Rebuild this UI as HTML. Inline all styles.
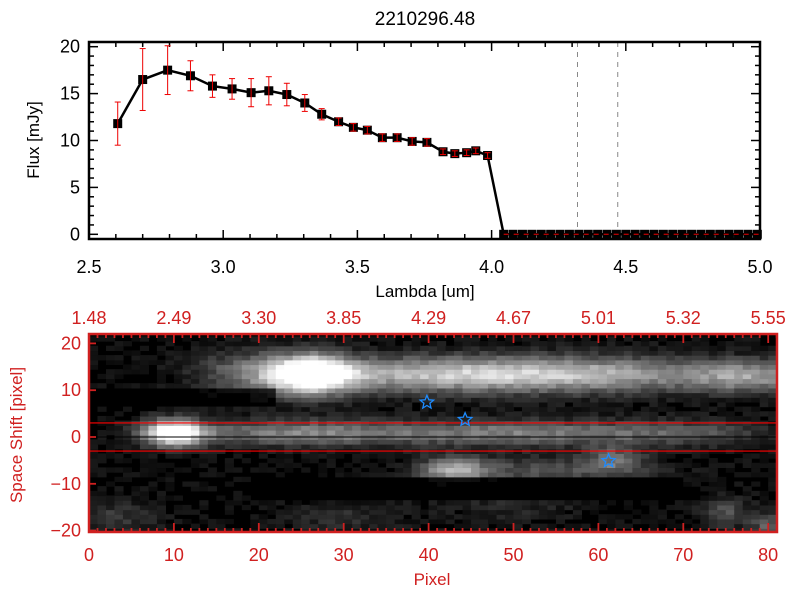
<!DOCTYPE html>
<html><head><meta charset="utf-8"><style>
html,body{margin:0;padding:0;background:#fff;width:800px;height:600px;overflow:hidden}
svg{display:block;font-family:"Liberation Sans",sans-serif}
</style></head><body>
<svg id="c" width="800" height="600" viewBox="0 0 800 600"></svg>
<script>
const lambdas=[2.607,2.70,2.793,2.878,2.96,3.033,3.104,3.17,3.237,3.304,3.367,3.43,3.485,3.537,3.593,3.648,3.704,3.759,3.819,3.863,3.907,3.941,3.985,4.045,4.08,4.115,4.15,4.185,4.22,4.255,4.29,4.325,4.36,4.395,4.43,4.465,4.5,4.535,4.57,4.605,4.64,4.675,4.71,4.745,4.78,4.815,4.85,4.885,4.92,4.955,4.99];
const flux=[11.8,16.5,17.5,16.9,15.8,15.5,15.1,15.3,14.9,14.0,12.8,12.0,11.4,11.1,10.3,10.3,9.9,9.8,8.8,8.6,8.7,8.9,8.4,0,0,0,0,0,0,0,0,0,0,0,0,0,0,0,0,0,0,0,0,0,0,0,0,0,0,0,0];
const fluxErr=[2.3,3.3,2.6,1.6,1.2,1.1,1.5,1.5,1.2,0.9,0.6,0.4,0.4,0.4,0.4,0.4,0.4,0.4,0.3,0.3,0.3,0.3,0.3,0,0,0,0,0,0,0,0,0,0,0,0,0,0,0,0,0,0,0,0,0,0,0,0,0,0,0,0];
const xTicks=[2.5,3.0,3.5,4.0,4.5,5.0];
const xTickLabels=["2.5","3.0","3.5","4.0","4.5","5.0"];
const yTicks=[0,5,10,15,20];
const dashedLambdas=[4.32,4.47];
const pixTicks=[0,10,20,30,40,50,60,70,80];
const lambdaTopLabels=["1.48","2.49","3.30","3.85","4.29","4.67","5.01","5.32","5.55"];
const shiftTicks=[20,10,0,-10,-20];
const starsPix=[39.8,44.3,61.2];
const starsShift=[7.4,3.7,-5.1];
// heatmap blobs: [pixel center, shift center, sigma x, sigma y, amplitude]
const blobX=[26,40,60,78,10,25,50,70,43,55,62,75,80,18,3,30,50];
const blobY=[13.5,13.5,13.5,13,1,1,1,1,-7,-7,-4.5,-16,-19,14,-17,-17,-15];
const blobSX=[3.5,12,12,5,2.5,10,10,8,3,8,2.5,2,1.5,4,4,5,6];
const blobSY=[3,2.8,2.8,2.5,2,2,2,2,2,2,2,2.2,2,3.5,2.5,2.5,2.5];
const blobA=[1.1,0.6,0.55,0.45,1.1,0.5,0.45,0.3,0.6,0.3,0.35,0.3,0.35,0.3,0.2,0.15,0.12];

const S=document.getElementById('c');const NS='http://www.w3.org/2000/svg';
function mk(t,a,p){const e=document.createElementNS(NS,t);for(const k in a)e.setAttribute(k,a[k]);(p||S).appendChild(e);return e;}
const X0=89,X1=760,Y0=239,Y1=42;
const lx=v=>X0+(v-2.5)/2.5*(X1-X0);
const fy=v=>Y0-(v+0.5)/21*(Y0-Y1);
let t=mk('text',{x:425,y:25,'text-anchor':'middle','font-size':19});t.textContent='2210296.48';


const gTop=mk('g',{});


dashedLambdas.forEach(v=>{const l=mk('line',{x1:lx(v),x2:lx(v),y1:Y1,y2:Y0,stroke:'#888','stroke-dasharray':'5,5','stroke-width':1},gTop);

});
for(let v=2.5;v<=5.001;v+=0.1){const maj=Math.abs(v*2-Math.round(v*2))<0.01;const L=maj?9:5;
mk('line',{x1:lx(v),x2:lx(v),y1:Y0,y2:Y0-L,stroke:'#000','stroke-width':1.5},gTop);
mk('line',{x1:lx(v),x2:lx(v),y1:Y1,y2:Y1+L,stroke:'#000','stroke-width':1.5},gTop);}
for(let v=0;v<=20;v++){const L=v%5==0?9:5;
mk('line',{x1:X0,x2:X0+L,y1:fy(v),y2:fy(v),stroke:'#000','stroke-width':1.5},gTop);
mk('line',{x1:X1,x2:X1-L,y1:fy(v),y2:fy(v),stroke:'#000','stroke-width':1.5},gTop);}
xTicks.forEach((v,i)=>{const e=mk('text',{x:lx(v),y:273,'text-anchor':'middle','font-size':18},gTop);e.textContent=xTickLabels[i];

});
yTicks.forEach(v=>{const e=mk('text',{x:80,y:fy(v)+6,'text-anchor':'end','font-size':18},gTop);e.textContent=v;

});
t=mk('text',{x:425,y:297,'text-anchor':'middle','font-size':17},gTop);t.textContent='Lambda [um]';


t=mk('text',{x:0,y:0,'text-anchor':'middle','font-size':17,transform:'translate(39,140) rotate(-90)'},gTop);t.textContent='Flux [mJy]';


mk('polyline',{points:lambdas.map((v,i)=>lx(v)+','+fy(flux[i])).join(' '),fill:'none',stroke:'#000','stroke-width':2.5},gTop);
lambdas.forEach((v,i)=>{const x=lx(v),y=fy(flux[i]);
const r=mk('rect',{x:x-4.5,y:y-4.5,width:9,height:9,fill:'#000'},gTop);


if(fluxErr[i]>0){const a=fy(flux[i]+fluxErr[i]),b=fy(flux[i]-fluxErr[i]);
mk('line',{x1:x,x2:x,y1:a,y2:b,stroke:'#e00','stroke-width':1},gTop);
mk('line',{x1:x-3,x2:x+3,y1:a,y2:a,stroke:'#e00','stroke-width':1},gTop);
mk('line',{x1:x-3,x2:x+3,y1:b,y2:b,stroke:'#e00','stroke-width':1},gTop);}});
mk('line',{x1:lx(lambdas[23]),x2:X1,y1:fy(0),y2:fy(0),stroke:'#e00','stroke-width':1,'stroke-dasharray':'5,5'},gTop);
mk('rect',{x:X0,y:Y1,width:X1-X0,height:Y0-Y1,fill:'none',stroke:'#000','stroke-width':2.5},gTop);

const B0=89,BPX=8.49,BY0=437,BPY=4.68,BT=334,BB=532,BR=777;
const px=v=>B0+v*BPX, sy=v=>BY0-v*BPY;
const gB=mk('g',{});


mk('rect',{x:B0,y:BT,width:BR-B0,height:BB-BT,fill:'#000'},gB);
for(let i=0;i<81;i++)for(let j=-21;j<=21;j++){
 let v=0.0;
 for(let k=0;k<blobX.length;k++){const dx=(i+0.5-blobX[k])/blobSX[k],dy=(j-blobY[k])/blobSY[k];v+=blobA[k]*Math.exp(-0.5*(dx*dx+dy*dy));}
 const h=Math.sin(i*12.9898+j*78.233)*43758.5;v+=((h-Math.floor(h))-0.5)*0.14+0.06;
 if(j>=7&&j<=10&&i<22)v*=0.3;
 if(j<=-9&&j>=-13&&i>18&&i<70)v*=0.2;
 v=Math.max(0,Math.min(1,v));v=Math.pow(v,1.15);const c=Math.round(v*255);
 const y1=Math.max(BT,sy(j+0.5)),y2=Math.min(BB,sy(j-0.5));
 if(c>10)mk('rect',{x:px(i),y:y1,width:BPX+0.6,height:y2-y1+0.6,fill:`rgb(${c},${c},${c})`},gB);
}
mk('line',{x1:B0,x2:BR,y1:sy(0),y2:sy(0),stroke:'#000','stroke-width':1},gB);
[3,-3].forEach(v=>mk('line',{x1:B0,x2:BR,y1:sy(v),y2:sy(v),stroke:'#f00','stroke-width':1.2},gB));
function star(cx,cy,r){let p=[];for(let k=0;k<10;k++){const a=-Math.PI/2+k*Math.PI/5,rr=k%2?r*0.45:r;p.push((cx+rr*Math.cos(a)).toFixed(1)+','+(cy+rr*Math.sin(a)).toFixed(1));}return p.join(' ');}
starsPix.forEach((v,i)=>{const s=mk('polygon',{points:star(px(v),sy(starsShift[i]),7),fill:'none',stroke:'#1e8cff','stroke-width':1.3},gB);

});
const red='#d02020';
for(let i=0;i<=81;i++){const L=i%10==0?9:4;
mk('line',{x1:px(i),x2:px(i),y1:BB,y2:BB-L,stroke:red,'stroke-width':1.8},gB);
mk('line',{x1:px(i),x2:px(i),y1:BT,y2:BT+L,stroke:red,'stroke-width':1.8},gB);}
for(let v=-20;v<=20;v+=10){mk('line',{x1:B0,x2:B0+7,y1:sy(v),y2:sy(v),stroke:red,'stroke-width':1.8},gB);}
mk('rect',{x:B0,y:BT,width:BR-B0,height:BB-BT,fill:'none',stroke:red,'stroke-width':2.5},gB);
pixTicks.forEach((v,i)=>{let e=mk('text',{x:px(v),y:561,'text-anchor':'middle','font-size':18,fill:red},gB);e.textContent=v;


e=mk('text',{x:px(v),y:324,'text-anchor':'middle','font-size':18,fill:red},gB);e.textContent=lambdaTopLabels[i];

});
shiftTicks.forEach(v=>{const e=mk('text',{x:81,y:sy(v)+6,'text-anchor':'end','font-size':18,fill:red},gB);e.textContent=v<0?'\u2212'+(-v):v;

});
t=mk('text',{x:432,y:585,'text-anchor':'middle','font-size':17,fill:red},gB);t.textContent='Pixel';


t=mk('text',{x:0,y:0,'text-anchor':'middle','font-size':17,fill:red,transform:'translate(22,435) rotate(-90)'},gB);t.textContent='Space Shift [pixel]';


</script>
</body></html>
